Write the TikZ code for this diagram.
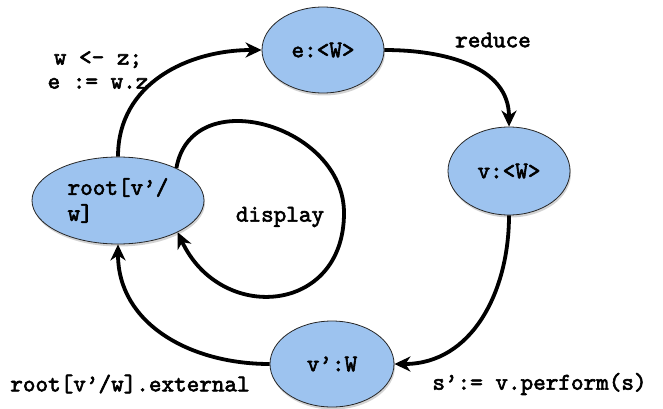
\documentclass[tikz,border=0pt]{standalone}
\usepackage{fontspec}
\newfontfamily\cmono{lmmono10-regular.otf}[FakeBold=2.5]
\usetikzlibrary{arrows.meta,shapes.geometric,shadows}
\definecolor{nodeblue}{RGB}{157,195,239}
\tikzset{
  state/.style={ellipse, draw=black!85, line width=0.8pt, fill=nodeblue,
    inner sep=0pt, font=\codefont,
    drop shadow={shadow xshift=1pt, shadow yshift=-2.5pt, opacity=0.35}},
  lbl/.style={font=\codefont, inner sep=0pt},
  arr/.style={line width=3.8pt, -{Stealth[length=16pt,width=15pt,inset=5pt]}}
}
\newcommand{\codefont}{\cmono\fontsize{24}{25}\selectfont}
\begin{document}
\begin{tikzpicture}[x=1pt,y=1pt]
\useasboundingbox (0,0) rectangle (663,-409);
\node[state, minimum width=122pt, minimum height=86pt] (e) at (323,-50) {e:<W>};
\node[state, minimum width=122pt, minimum height=88pt] (v) at (509,-171) {v:<W>};
\node[state, minimum width=124pt, minimum height=86pt] (vp) at (332,-364) {v’:W};
\node[state, minimum width=172pt, minimum height=87pt, align=left] (root) at (118,-200.5) {root[v’/\\[1pt]w]};
\coordinate (dispR) at (344,-213);

\draw[arr] (root.north) to[out=90,in=180,looseness=1.05] (e.west);
\draw[arr] (e.east) to[out=0,in=90,looseness=1.05] (v.north);
\draw[arr] (v.south) to[out=-90,in=0,looseness=1.05] (vp.east);
\draw[arr] (vp.west) to[out=180,in=-90,looseness=1.05] (root.south);
\draw[arr] (root.29) to[out=80,in=90,looseness=1.3] (dispR) to[out=-90,in=-65,looseness=1.55] (root.-28);

\node[lbl, align=center] (l1) at (98,-70) {w <- z;\\[-1pt]e := w.z};
\node[lbl] (l2) at (493,-40) {reduce};
\node[lbl] (l3) at (280,-217) {display};
\node[lbl] (l4) at (130,-384) {root[v’/w].external};
\node[lbl] (l5) at (539.5,-384) {s’:= v.perform(s)};
\end{tikzpicture}
\end{document}
